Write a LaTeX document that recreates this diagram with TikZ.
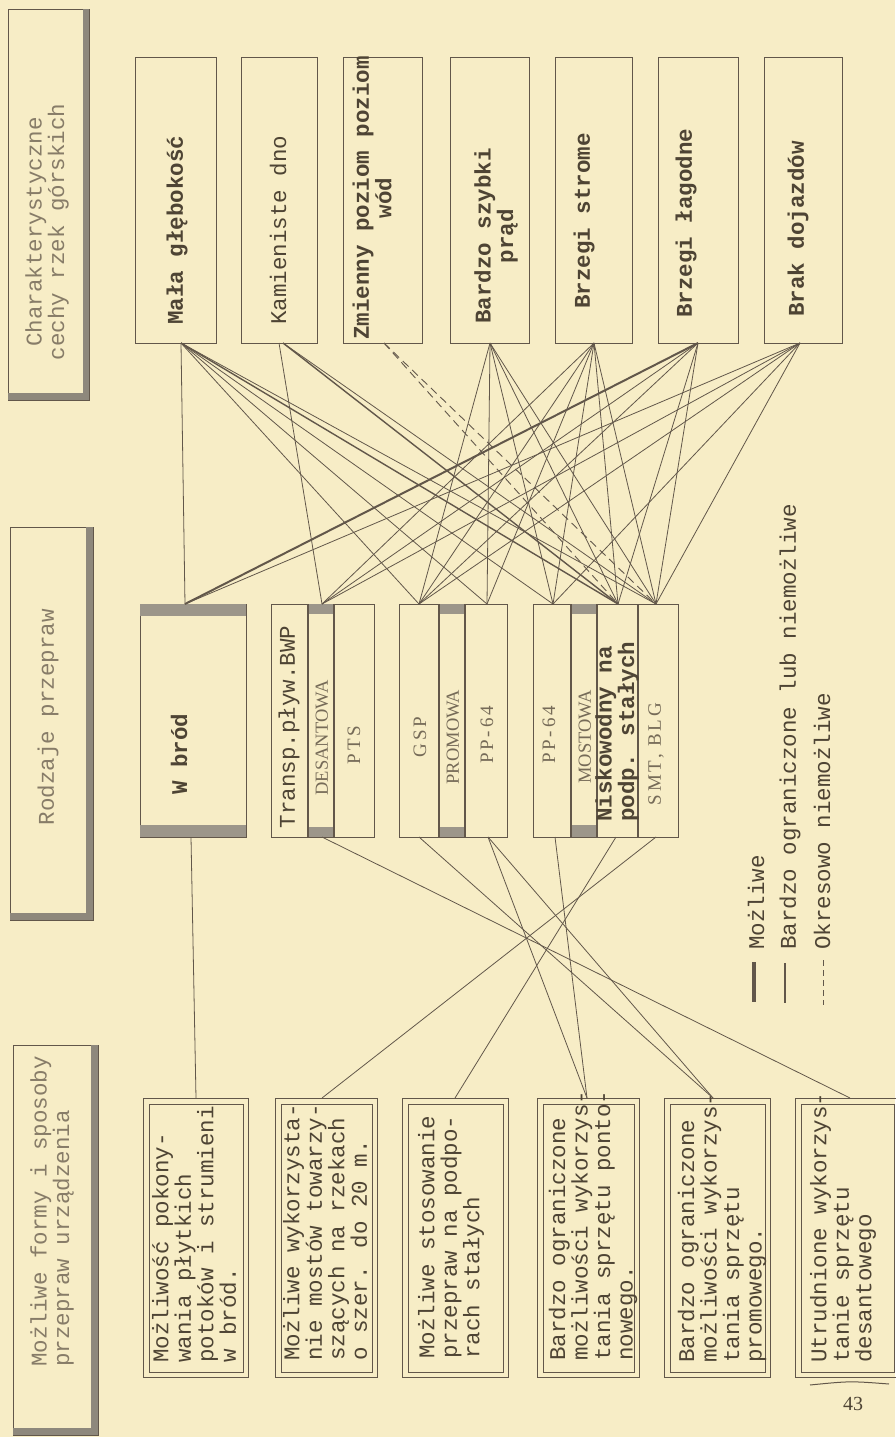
\documentclass[tikz,border=0pt]{standalone}
\usepackage{fontspec}
\setmainfont{Liberation Serif}
\newfontfamily\twf{Liberation Mono}
\newfontfamily\sps[LetterSpace=15]{Liberation Serif}
\definecolor{paper}{HTML}{F7EDC6}
\definecolor{lc}{HTML}{62574A}
\definecolor{tc}{HTML}{4E4434}
\definecolor{hc}{HTML}{877C68}
\definecolor{band}{HTML}{9C968A}
\definecolor{shad}{HTML}{8E887C}
\newcommand{\mybox}[5]{\node[bx,minimum width=#4pt,minimum height=#5pt,anchor=north west,inner sep=0pt] (#1) at (#2,#3) {};}
\begin{document}
\begin{tikzpicture}[x=1pt,y=-1pt,
  ln/.style={draw=lc,line width=0.8pt},
  thk/.style={draw=lc,line width=2pt},
  dsh/.style={draw=lc,line width=0.9pt,dash pattern=on 8pt off 5pt},
  bx/.style={draw=lc,line width=1.3pt},
  hb/.style={draw=lc,line width=0.9pt},
  tw/.style={font=\twf\fontsize{22.5}{22.5}\selectfont,text=tc,inner sep=0pt,rotate=90},
  twb/.style={tw,font=\twf\bfseries\fontsize{22.5}{22.5}\selectfont},
  hd/.style={tw,text=hc},
  sf/.style={font=\fontsize{18.5}{18.5}\selectfont,text=hc!70!tc,inner sep=0pt,rotate=90},
  sfs/.style={sf,font=\sps\fontsize{19}{19}\selectfont},
]
\useasboundingbox (0,0) rectangle (895,1437);
\fill[paper] (0,0) rectangle (895,1437);

% ---------- header boxes ----------
\node[hb,minimum width=81pt,minimum height=391pt,anchor=north west,inner sep=0pt] (h1) at (8,9) {};
\fill[shad] (83,9) rectangle (89,400); \fill[shad] (8,393) rectangle (89,400);
\node[hb,minimum width=83pt,minimum height=393pt,anchor=north west,inner sep=0pt] (h2) at (10,527) {};
\fill[shad] (86,527) rectangle (93,920); \fill[shad] (10,913) rectangle (93,920);
\node[hb,minimum width=85pt,minimum height=390pt,anchor=north west,inner sep=0pt] (h3) at (13,1045) {};
\fill[shad] (91,1045) rectangle (98,1435); \fill[shad] (13,1428) rectangle (98,1435);
\node[hd,align=center] (h1t) at (47,232) {Charakterystyczne\\cechy rzek górskich};
\node[hd] (h2t) at (48,717) {Rodzaje przepraw};
\node[hd,align=left,anchor=west] (h3t) at (52,1367) {Możliwe formy i sposoby\\przepraw urządzenia};

% ---------- top row ----------
\mybox{mala}{135}{57}{81}{286}
\mybox{kam}{241}{57}{76}{286}
\mybox{zmi}{343}{57}{79}{286}
\mybox{bsz}{450}{57}{79}{286}
\mybox{bst}{555}{57}{77}{286}
\mybox{blg}{658}{57}{80}{286}
\mybox{bdj}{764}{57}{78}{286}
\node[twb] (malat) at (177,230) {Mała głębokość};
\node[tw] (kamt) at (278,230) {Kamieniste dno};
\node[twb,align=center] (zmit) at (372,198) {Zmienny poziom poziom\\wód};
\node[twb,align=center] (bszt) at (496,236) {Bardzo szybki\\prąd};
\node[twb] (bstt) at (584,221) {Brzegi strome};
\node[twb] (blgt) at (686,223) {Brzegi łagodne};
\node[twb] (bdjt) at (798,229) {Brak dojazdów};

% ---------- middle row ----------
\mybox{wbr}{140}{604}{106}{233}
\fill[band] (140,604) rectangle (246,616); \fill[band] (140,825) rectangle (246,837);
\mybox{gb}{271}{604}{103}{233}
\fill[band] (308,604) rectangle (334,614); \fill[band] (308,827) rectangle (334,837);
\draw[bx] (308,604) -- (308,837) (334,604) -- (334,837);
\mybox{gc}{399}{604}{108}{233}
\fill[band] (439,604) rectangle (465,614); \fill[band] (439,827) rectangle (465,837);
\draw[bx] (439,604) -- (439,837) (465,604) -- (465,837);
\mybox{gd}{533}{604}{145}{233}
\fill[band] (571,604) rectangle (597,614); \fill[band] (571,825) rectangle (597,837);
\draw[bx] (571,604) -- (571,837) (597,604) -- (597,837) (638,604) -- (638,837);
\node[twb] (wbrt) at (179,754) {W bród};
\node[tw] (trt) at (289,727) {Transp.pływ.BWP};
\node[sf] (dest) at (322,738) {DESANTOWA};
\node[sfs] (ptst) at (354,745) {PTS};
\node[sfs] (gspt) at (420,737) {GSP};
\node[sf] (prot) at (453,737) {PROMOWA};
\node[sfs] (ppat) at (487,735) {PP-64};
\node[sfs] (ppbt) at (549,735) {PP-64};
\node[sf] (most) at (585,737) {MOSTOWA};
\node[twb,align=left,anchor=west] (nist) at (617,822) {Niskowodny na\\podp. stałych};
\node[sfs] (smtt) at (656,754) {SMT, BLG};

% ---------- bottom row ----------
\foreach \n/\x/\w in {b1/143/105,b2/275/102,b3/402/106,b4/537/102,b5/664/106,b6/795/104}{
  \node[bx,minimum width=\w pt,minimum height=279pt,anchor=north west,inner sep=0pt] (\n) at (\x,1098) {};
  \draw[lc,line width=1pt] ([shift={(6,6)}]\n.north west) rectangle ([shift={(-6,-6)}]\n.south east);
}
\node[tw,align=left,anchor=west] (b1t) at (194,1363) {Możliwość pokony-\\wania płytkich\\potoków i strumieni\\w bród.};
\node[tw,align=left,anchor=west] (b2t) at (325,1361) {Możliwe wykorzysta-\\nie mostów towarzy-\\szących na rzekach\\o szer. do 20 m.};
\node[tw,align=left,anchor=west] (b3t) at (451,1359) {Możliwe stosowanie\\przepraw na podpo-\\rach stałych};
\node[tw,align=left,anchor=west] (b4t) at (593,1361) {Bardzo ograniczone\\możliwości wykorzys-\\tania sprzętu ponto-\\nowego.};
\node[tw,align=left,anchor=west] (b5t) at (722,1363) {Bardzo ograniczone\\możliwości wykorzys-\\tania sprzętu\\promowego.};
\node[tw,align=left,anchor=west] (b6t) at (843,1363) {Utrudnione wykorzys-\\tanie sprzętu\\desantowego};
\draw[lc,line width=1pt] (810,1385) .. controls (850,1381) .. (889,1384);
\node[font=\fontsize{20}{20}\selectfont,text=tc] (pg) at (853,1404) {43};

% ---------- connector end points ----------
\coordinate (s1) at (181,343); \coordinate (s2a) at (279,343); \coordinate (s2b) at (283,343);
\coordinate (s3) at (384,343); \coordinate (s4) at (490,343); \coordinate (s5) at (594,343);
\coordinate (s6) at (698,343); \coordinate (s7) at (800,343);
\coordinate (tA) at (185,604); \coordinate (tB) at (322,604); \coordinate (tC) at (419,604);
\coordinate (tD) at (487,604); \coordinate (tE) at (553,604); \coordinate (tF) at (618,604);
\coordinate (tG) at (656,604);
\coordinate (uA) at (191,837); \coordinate (uB) at (322,837); \coordinate (uC) at (419,837);
\coordinate (uD) at (488,837); \coordinate (uE) at (555,837); \coordinate (uF) at (616,837);
\coordinate (uG) at (656,837);
\coordinate (v1) at (196,1098); \coordinate (v2) at (322,1098); \coordinate (v3) at (455,1098);
\coordinate (v4) at (587,1098); \coordinate (v5) at (713,1098); \coordinate (v6) at (850,1098);

% ---------- connectors top -> middle ----------
\draw[ln] (s1) -- (tA);
\foreach \t in {tC,tD,tE,tG} \draw[ln] (s1) -- (\t);
\draw[thk,line width=1.4pt] (s1) -- (tF);
\draw[ln] (s2a) -- (tB);
\draw[thk,line width=1.4pt] (s2b) -- (tF);
\draw[ln] (s2b) -- (tG);
\draw[dsh] (s3) -- (tF); \draw[dsh] (s3) -- (tG);
\foreach \t in {tC,tD,tE,tF,tG} \draw[ln] (s4) -- (\t);
\foreach \t in {tB,tC,tD,tE,tF,tG} \draw[ln] (s5) -- (\t);
\draw[thk] (s6) -- (tA);
\foreach \t in {tB,tC,tF,tG} \draw[ln] (s6) -- (\t);
\foreach \t in {tA,tB,tC,tE,tG} \draw[ln] (s7) -- (\t);

% ---------- connectors middle -> bottom ----------
\draw[ln] (uA) -- (v1);
\draw[ln] (uB) -- (v6);
\draw[ln] (uC) -- (v5);
\draw[ln] (uD) -- (v5);
\draw[ln] (uD) -- (v4);
\draw[ln] (uE) -- (v4);
\draw[ln] (uF) -- (v3);
\draw[ln] (uG) -- (v2);

% ---------- legend ----------
\coordinate (la1) at (754,962); \coordinate (la2) at (754,1002);
\coordinate (lb1) at (785,963); \coordinate (lb2) at (785,1003);
\coordinate (lc1) at (823,960); \coordinate (lc2) at (823,1005);
\draw[thk,line width=3.5pt] (la1) -- (la2);
\draw[ln,line width=1.1pt] (lb1) -- (lb2);
\draw[dsh,dash pattern=on 6pt off 4pt] (lc1) -- (lc2);
\node[tw,anchor=west] (lgt1) at (756,950) {Możliwe};
\node[tw,anchor=west] (lgt2) at (790,950) {Bardzo ograniczone lub niemożliwe};
\node[tw,anchor=west] (lgt3) at (822,950) {Okresowo niemożliwe};
\end{tikzpicture}
\end{document}
